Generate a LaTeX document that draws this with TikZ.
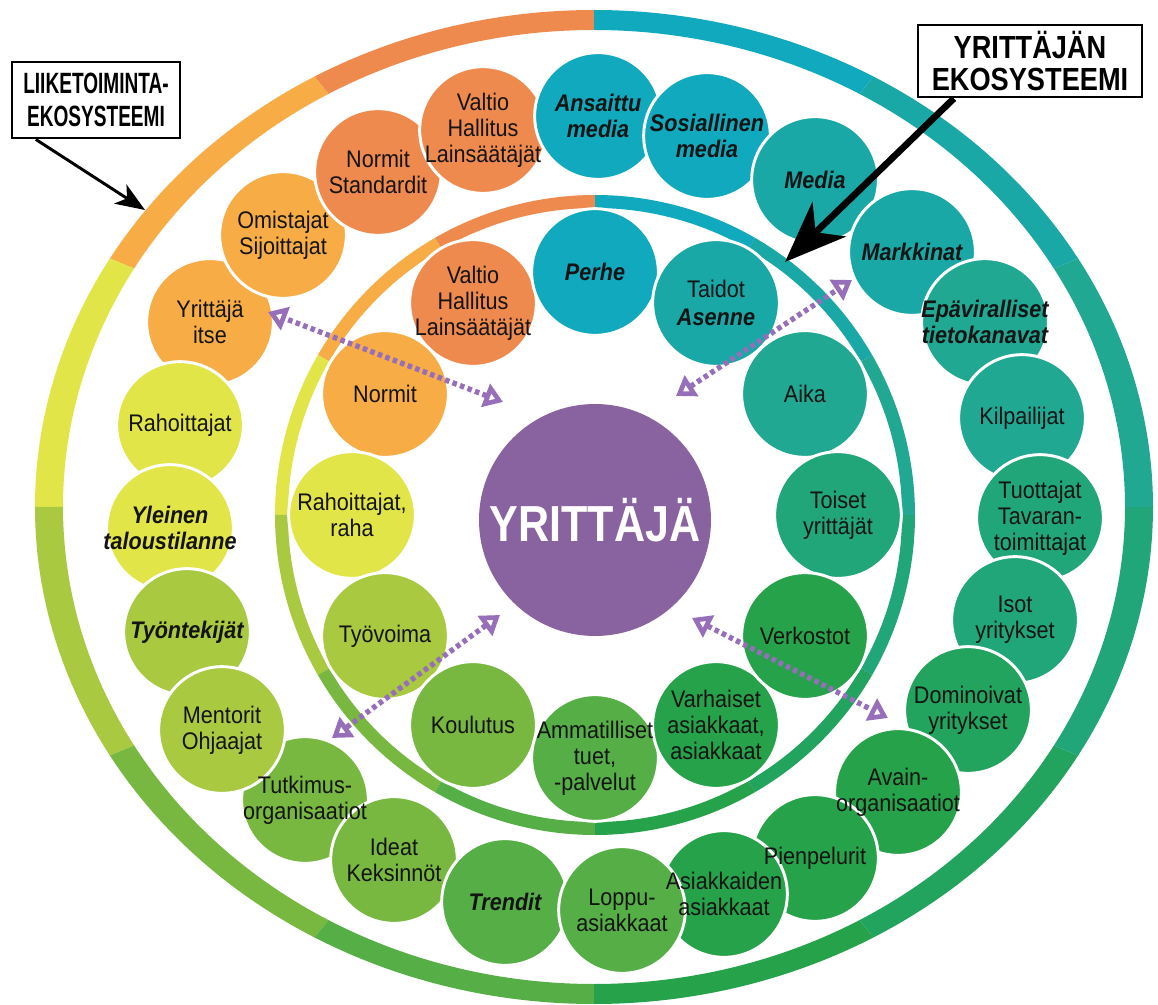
\documentclass[tikz,border=0pt]{standalone}
\usepackage{fontspec}
\setmainfont{Liberation Sans}
\newfontfamily\bubfam{Liberation Sans}[FakeStretch=0.9]
\newfontfamily\midfam{Liberation Sans}[FakeStretch=0.85]
\newfontfamily\lboxfam{Liberation Sans}[FakeStretch=0.65]
\newfontfamily\rboxfam{Liberation Sans}[FakeStretch=0.85]
\usetikzlibrary{arrows.meta}
\pgfdeclarelayer{back}
\pgfdeclarelayer{discs}
\pgfsetlayers{back,discs,main}
\definecolor{cOrD}{RGB}{239,138,79}
\definecolor{cOrL}{RGB}{247,172,69}
\definecolor{cYel}{RGB}{226,229,72}
\definecolor{cYG}{RGB}{168,201,64}
\definecolor{cGrA}{RGB}{120,184,64}
\definecolor{cGrB}{RGB}{86,174,70}
\definecolor{cGrC}{RGB}{38,162,74}
\definecolor{cGrD}{RGB}{34,163,94}
\definecolor{cTgA}{RGB}{33,166,122}
\definecolor{cTgB}{RGB}{32,168,146}
\definecolor{cTlA}{RGB}{25,168,166}
\definecolor{cTl}{RGB}{16,169,189}
\definecolor{cPur}{RGB}{137,98,160}
\definecolor{cArr}{RGB}{150,110,185}
\newcommand{\bubfont}{\bubfam\fontsize{18}{19.5}\selectfont}

\begin{document}
\begin{tikzpicture}[
	x=0.75pt, y=-0.75pt,
	bub/.style={circle, minimum size=95pt, inner sep=0pt, align=center, text=black!92, font=\bubfont},
	bubbi/.style={bub, font=\bubfont\bfseries\itshape},
	disc/.style={draw=white, line width=2.2pt},
	callbox/.style={draw=black, line width=2.2pt, fill=white, align=center, inner sep=0pt},
	callarr/.style={draw=black, line width=2.2pt, -{Stealth[length=22pt, width=17pt, inset=6pt]}},
	bigarr/.style={draw=black, line width=5pt, -{Stealth[length=46pt, width=36pt, inset=14pt]}},
	dotarr/.style={draw=cArr, line width=4pt, dash pattern=on 3.4pt off 2.6pt,
		{Triangle[open, length=14pt, width=18pt]}-{Triangle[open, length=14pt, width=18pt]}}
	]
	\begin{pgfonlayer}{back}
		\fill[white] (0,0) rectangle (1158,1005);
		\begin{scope}[shift={(594,507)}]
			\foreach \a/\c in {90/cOrD,120/cOrL,150/cYel,180/cYG,210/cGrA,240/cGrB,270/cGrC,300/cGrD,330/cTgA,0/cTgB,30/cTlA,60/cTl}
			\fill[\c] (-\a:559 and 497) arc[start angle=-\a, delta angle=-30, x radius=559, y radius=497]
				-- (-\a-30:531 and 477) arc[start angle=-\a-30, delta angle=30, x radius=531, y radius=477] -- cycle;
		\end{scope}
		\begin{scope}[shift={(595,515)}]
			\foreach \a/\c in {90/cOrD,120/cOrL,150/cYel,180/cYG,210/cGrA,240/cGrB,270/cGrC,300/cGrD,330/cTgA,0/cTgB,30/cTlA,60/cTl}
			\fill[\c] (-\a:320) arc[start angle=-\a, delta angle=-30, radius=320]
				-- (-\a-30:307) arc[start angle=-\a-30, delta angle=30, radius=307] -- cycle;
		\end{scope}
	\end{pgfonlayer}
	\useasboundingbox (0,0) rectangle (1158,1005);
	
	\node[bub] (itse) at (210,322) {Yrittäjä\\itse};
	\node[bub] (omist) at (283,235) {Omistajat\\Sijoittajat};
	\node[bub] (nstd) at (378,172) {Normit\\Standardit};
	\node[bub] (valtioA) at (483,130) {Valtio\\Hallitus\\Lainsäätäjät};
	\node[bubbi] (ansaittu) at (598,116) {Ansaittu\\media};
	\node[bubbi] (some) at (707,136) {Sosiallinen\\media};
	\node[bubbi] (media) at (815,180) {Media};
	\node[bubbi] (markk) at (912,252) {Markkinat};
	\node[bubbi] (epav) at (985,322) {Epäviralliset\\tietokanavat};
	\node[bub] (kilp) at (1022,418) {Kilpailijat};
	\node[bub] (tuott) at (1040,518) {Tuottajat\\Tavaran-\\toimittajat};
	\node[bub] (isot) at (1015,620) {Isot\\yritykset};
	\node[bub] (domin) at (968,710) {Dominoivat\\yritykset};
	\node[bub] (avain) at (898,792) {Avain-\\organisaatiot};
	\node[bub] (pien) at (815,858) {Pienpelurit};
	\node[bub] (asasi) at (724,894) {Asiakkaiden\\asiakkaat};
	\node[bub] (rahA) at (180,425) {Rahoittajat};
	\node[bubbi] (yleinen) at (170,528) {Yleinen\\taloustilanne};
	\node[bubbi] (tyont) at (187,632) {Työntekijät};
	\node[bub] (tutk) at (305,800) {Tutkimus-\\organisaatiot};
	\node[bub] (mentor) at (222,730) {Mentorit\\Ohjaajat};
	\node[bub] (ideat) at (394,860) {Ideat\\Keksinnöt};
	\node[bubbi] (trend) at (505,902) {Trendit};
	\node[bub] (loppu) at (622,910) {Loppu-\\asiakkaat};
	
	\node[bub] (valtioB) at (473,303) {Valtio\\Hallitus\\Lainsäätäjät};
	\node[bubbi] (perhe) at (595,272) {Perhe};
	\node[bub] (taidot) at (716,303) {Taidot\\[2pt]{\bfseries\itshape Asenne}};
	\node[bub] (aika) at (805,394) {Aika};
	\node[bub] (toiset) at (838,515) {Toiset\\yrittäjät};
	\node[bub] (normit) at (385,394) {Normit};
	\node[bub] (rahB) at (352,515) {Rahoittajat,\\raha};
	\node[bub] (tyov) at (385,636) {Työvoima};
	\node[bub] (koul) at (473,725) {Koulutus};
	\node[bub] (ammat) at (595,758) {Ammatilliset\\tuet,\\-palvelut};
	\node[bub] (varh) at (716,725) {Varhaiset\\asiakkaat,\\asiakkaat};
	\node[bub] (verk) at (805,636) {Verkostot};
	
	\begin{pgfonlayer}{discs}
		\foreach \n/\c in {itse/cOrL,omist/cOrL,nstd/cOrD,valtioA/cOrD,ansaittu/cTl,some/cTl,media/cTlA,markk/cTlA,
			epav/cTgB,kilp/cTgB,tuott/cTgA,isot/cTgA,domin/cGrD,avain/cGrC,pien/cGrC,asasi/cGrC,
			rahA/cYel,yleinen/cYel,tyont/cYG,tutk/cGrA,mentor/cYG,ideat/cGrA,trend/cGrB,loppu/cGrB,
			valtioB/cOrD,perhe/cTl,taidot/cTlA,aika/cTgB,toiset/cTgA,normit/cOrL,rahB/cYel,tyov/cYG,
			koul/cGrA,ammat/cGrB,varh/cGrC,verk/cGrC}
		\filldraw[disc, fill=\c] (\n) circle[radius=47.5pt];
	\end{pgfonlayer}
	
	\node[circle, fill=cPur, minimum size=174pt, inner sep=0pt, text=white, font=\midfam\bfseries\fontsize{38}{40}\selectfont] (yr) at (595,520) {YRITTÄJÄ};
	
	\coordinate (nwIn) at (503,402);
	\coordinate (nwOut) at (268,312);
	\coordinate (neIn) at (676,396);
	\coordinate (neOut) at (852,280);
	\coordinate (swIn) at (500,615);
	\coordinate (swOut) at (332,738);
	\coordinate (seIn) at (692,618);
	\coordinate (seOut) at (888,718);
	\draw[dotarr] (nwIn) -- (nwOut);
	\draw[dotarr] (neIn) -- (neOut);
	\draw[dotarr] (swIn) -- (swOut);
	\draw[dotarr] (seIn) -- (seOut);
	
	\node[callbox, minimum width=126pt, minimum height=57pt, font=\lboxfam\bfseries\fontsize{22}{25}\selectfont] (lbox) at (96,100) {LIIKETOIMINTA-\\EKOSYSTEEMI};
	\node[callbox, minimum width=168pt, minimum height=54pt, font=\rboxfam\bfseries\fontsize{24}{24}\selectfont] (rbox) at (1030,61) {YRITTÄJÄN\\EKOSYSTEEMI};
	\coordinate (ltip) at (145,210);
	\coordinate (rtip) at (785,262);
	\draw[callarr] ([xshift=19pt]lbox.south west) -- (ltip);
	\draw[bigarr] ([xshift=28pt]rbox.south west) -- (rtip);
\end{tikzpicture}
\end{document}
